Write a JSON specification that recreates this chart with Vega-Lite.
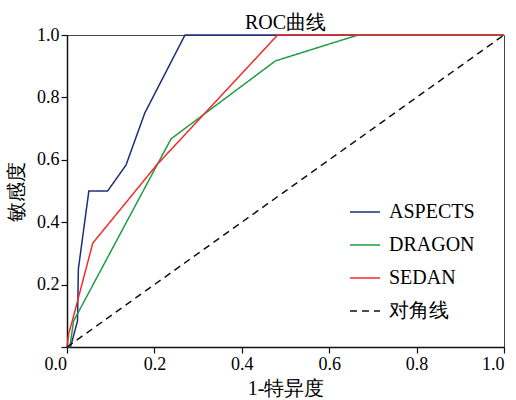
{
  "$schema": "https://vega.github.io/schema/vega-lite/v6.json",
  "width": 437,
  "height": 312,
  "autosize": {"type": "none"},
  "padding": {"left": 67, "top": 35, "right": 12, "bottom": 53},
  "title": {"text": "ROC曲线", "fontSize": 20, "fontWeight": "normal", "color": "black", "offset": -7},
  "data": {"values": [
    {"series": "ASPECTS", "i": 0, "fpr": 0, "tpr": 0},
    {"series": "ASPECTS", "i": 1, "fpr": 0.008, "tpr": 0},
    {"series": "ASPECTS", "i": 2, "fpr": 0.024, "tpr": 0.083},
    {"series": "ASPECTS", "i": 3, "fpr": 0.026, "tpr": 0.25},
    {"series": "ASPECTS", "i": 4, "fpr": 0.05, "tpr": 0.5},
    {"series": "ASPECTS", "i": 5, "fpr": 0.093, "tpr": 0.5},
    {"series": "ASPECTS", "i": 6, "fpr": 0.135, "tpr": 0.583},
    {"series": "ASPECTS", "i": 7, "fpr": 0.178, "tpr": 0.75},
    {"series": "ASPECTS", "i": 8, "fpr": 0.27, "tpr": 1.0},
    {"series": "ASPECTS", "i": 9, "fpr": 1.0, "tpr": 1.0},
    {"series": "DRAGON", "i": 0, "fpr": 0, "tpr": 0},
    {"series": "DRAGON", "i": 1, "fpr": 0.007, "tpr": 0.005},
    {"series": "DRAGON", "i": 2, "fpr": 0.015, "tpr": 0.083},
    {"series": "DRAGON", "i": 3, "fpr": 0.238, "tpr": 0.667},
    {"series": "DRAGON", "i": 4, "fpr": 0.477, "tpr": 0.917},
    {"series": "DRAGON", "i": 5, "fpr": 0.666, "tpr": 1.0},
    {"series": "DRAGON", "i": 6, "fpr": 1.0, "tpr": 1.0},
    {"series": "SEDAN", "i": 0, "fpr": 0, "tpr": 0},
    {"series": "SEDAN", "i": 1, "fpr": 0.004, "tpr": 0.044},
    {"series": "SEDAN", "i": 2, "fpr": 0.012, "tpr": 0.083},
    {"series": "SEDAN", "i": 3, "fpr": 0.059, "tpr": 0.333},
    {"series": "SEDAN", "i": 4, "fpr": 0.205, "tpr": 0.583},
    {"series": "SEDAN", "i": 5, "fpr": 0.482, "tpr": 1.0},
    {"series": "SEDAN", "i": 6, "fpr": 1.0, "tpr": 1.0},
    {"series": "对角线", "i": 0, "fpr": 0, "tpr": 0},
    {"series": "对角线", "i": 1, "fpr": 1.0, "tpr": 1.0}
  ]},
  "mark": {"type": "line", "strokeWidth": 1.5, "clip": false},
  "encoding": {
    "x": {"field": "fpr", "type": "quantitative", "scale": {"domain": [0, 1], "nice": false}, "axis": {"title": "1-特异度", "values": [0, 0.2, 0.4, 0.6, 0.8, 1.0], "format": ".1f", "titlePadding": 5, "labelOffset": {"condition": {"test": "datum.value === 0", "value": -23}, "value": 0}}},
    "y": {"field": "tpr", "type": "quantitative", "scale": {"domain": [0, 1], "nice": false}, "axis": {"title": "敏感度", "values": [0, 0.2, 0.4, 0.6, 0.8, 1.0], "labelExpr": "datum.value === 0 ? '' : format(datum.value, '.1f')", "titlePadding": 10}},
    "order": {"field": "i", "type": "quantitative"},
    "color": {"field": "series", "type": "nominal", "title": null,
      "scale": {"domain": ["ASPECTS", "DRAGON", "SEDAN", "对角线"], "range": ["#1f2d7b", "#1e9e44", "#f22b2b", "#111111"]},
      "legend": {"orient": "none", "legendX": 282, "legendY": 161, "symbolType": "stroke", "symbolSize": 900, "symbolStrokeWidth": 1.5, "labelFontSize": 20, "labelOffset": 8, "rowPadding": 7, "labelColor": "black"}},
    "strokeDash": {"field": "series", "type": "nominal", "title": null,
      "scale": {"domain": ["ASPECTS", "DRAGON", "SEDAN", "对角线"], "range": [[1, 0], [1, 0], [1, 0], [7, 5]]}}
  },
  "config": {
    "font": "Liberation Serif",
    "view": {"stroke": "#444444", "strokeWidth": 1},
    "axis": {"grid": false, "labelFontSize": 18, "titleFontSize": 20, "titleFontWeight": "normal", "labelColor": "black", "titleColor": "black", "domainColor": "#111111", "domainWidth": 1.5, "tickColor": "#111111", "tickSize": 6, "tickWidth": 1.2, "labelPadding": 2}
  }
}
